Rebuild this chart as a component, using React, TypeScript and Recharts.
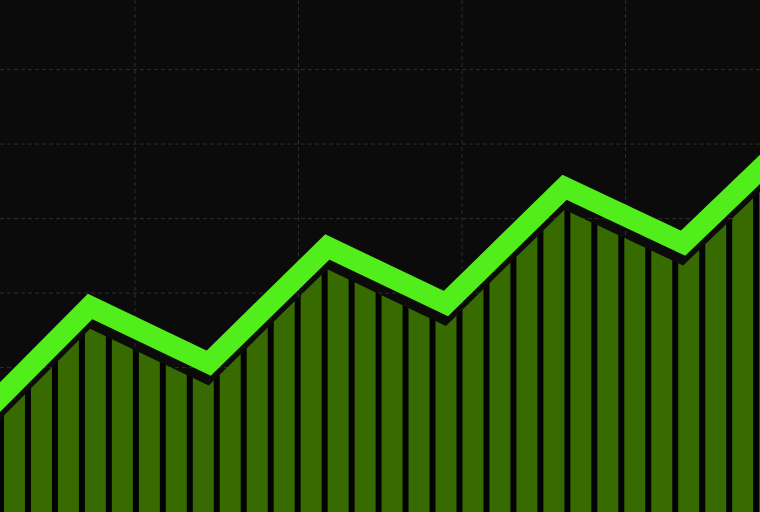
import React from 'react';
import { ComposedChart, Area, Line, XAxis, YAxis, CartesianGrid } from 'recharts';

// Category positions (index of each vertex of the zig-zag trend)
const positions = [0, 1, 2, 3, 4, 5, 6, 7];
// Centre of the bright trend line
const trendValues = [12.2, 28.2, 20.6, 36.2, 28.6, 44.2, 36.7, 52.0];
// Top of the striped column area beneath it
const columnValues = [9.2, 25.2, 17.6, 33.2, 25.6, 41.2, 33.7, 49.0];
// Grid tick values
const xTicks = [1.3786, 2.757, 4.136, 5.514];
const yTicks = [10, 20, 30, 40, 50, 60];
const xDomain = [0.2403, 6.648];
const yDomain = [0.62, 69.34];

const data = positions.map((p, i) => ({
  p,
  trend: trendValues[i],
  column: columnValues[i],
}));

const BG = '#0b0b0b';
const LINE_GREEN = '#52ee1c';
const COLUMN_GREEN = '#376a00';

const applyScale = (scale: any, v: number): number | undefined => {
  if (typeof scale === 'function') return scale(v);
  if (scale && typeof scale.map === 'function') return scale.map(v);
  return undefined;
};

const hGen = (props: any) => {
  const off = props?.offset ?? { top: 0, height: props?.height ?? 512 };
  return yTicks.map((t) => {
    const s = applyScale(props?.yAxis?.scale, t);
    if (typeof s === 'number' && !isNaN(s)) return s;
    return off.top + off.height * (1 - (t - yDomain[0]) / (yDomain[1] - yDomain[0]));
  });
};
const vGen = (props: any) => {
  const off = props?.offset ?? { left: 0, width: props?.width ?? 760 };
  return xTicks.map((t) => {
    const s = applyScale(props?.xAxis?.scale, t);
    if (typeof s === 'number' && !isNaN(s)) return s;
    return off.left + (off.width * (t - xDomain[0])) / (xDomain[1] - xDomain[0]);
  });
};

export default function App() {
  return (
    <div
      style={{
        position: 'fixed',
        left: 0,
        top: 0,
        width: 760,
        height: 512,
        overflow: 'hidden',
        background: BG,
      }}
    >
      <ComposedChart
        width={760}
        height={512}
        data={data}
        margin={{ top: 0, right: 0, bottom: 0, left: 0 }}
        style={{ background: BG }}
      >
        <defs>
          <pattern
            id="stripes"
            patternUnits="userSpaceOnUse"
            x={-2}
            y={0}
            width={26.97}
            height={512}
          >
            <rect x={0} y={0} width={26.97} height={512} fill={COLUMN_GREEN} />
            <rect x={0} y={0} width={6} height={512} fill="#030303" />
          </pattern>
        </defs>
        <CartesianGrid
          stroke="#2e2e2e"
          strokeDasharray="4 3"
          strokeWidth={1}
          horizontalCoordinatesGenerator={hGen}
          verticalCoordinatesGenerator={vGen}
        />
        <XAxis
          dataKey="p"
          type="number"
          domain={xDomain}
          ticks={xTicks}
          allowDataOverflow
          hide
        />
        <YAxis
          type="number"
          domain={yDomain}
          ticks={yTicks}
          allowDataOverflow
          hide
        />
        <Area
          type="linear"
          dataKey="column"
          stroke="none"
          fill="url(#stripes)"
          fillOpacity={1}
          isAnimationActive={false}
          dot={false}
          activeDot={false}
        />
        <Line
          type="linear"
          dataKey="trend"
          stroke={LINE_GREEN}
          strokeWidth={21}
          strokeLinejoin="miter"
          dot={false}
          activeDot={false}
          isAnimationActive={false}
        />
      </ComposedChart>
    </div>
  );
}
